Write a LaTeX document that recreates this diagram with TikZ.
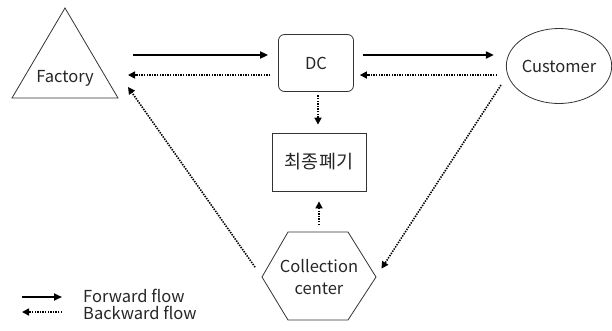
\documentclass[tikz,border=0pt]{standalone}
\usepackage{fontspec}
\setmainfont{Noto Sans CJK KR}
\usetikzlibrary{arrows.meta,shapes.geometric}
\begin{document}
\begin{tikzpicture}[x=1pt,y=-1pt,
  outline/.style={draw=black!80, line width=0.8pt},
  lbl/.style={font=\fontsize{16.5}{22}\selectfont, text=black!85, inner sep=0pt},
  fwd/.style={-{Triangle[length=8pt,width=7pt]}, line width=1.8pt},
  bwd/.style={-{Triangle[length=7pt,width=7pt]}, line width=1.6pt, dash pattern=on 1.4pt off 1.2pt}]
\useasboundingbox (0,0) rectangle (612,330);
% shapes
\draw[outline] (65,8) -- (118,98) -- (12,98) -- cycle;
\node[lbl] (factory) at (65,78) {Factory};
\node[outline, rounded corners=6pt, minimum width=75pt, minimum height=57pt, lbl] (dc) at (316,63) {DC};
\node[outline, ellipse, minimum width=98pt, minimum height=75pt, lbl] (cust) at (559,66) {Customer};
\node[outline, minimum width=94pt, minimum height=58pt, lbl, font=\fontsize{18.5}{22}\selectfont] (final) at (319,162) {최종폐기};
\draw[outline] (262,277) -- (288,232) -- (348,232) -- (376,277) -- (348,320) -- (288,320) -- cycle;
\node[lbl, align=center] (coll) at (319,277) {Collection\\center};
% connector end points
\coordinate (fa) at (133,55);
\coordinate (fb) at (128,75);
\coordinate (fc) at (128,87);
\coordinate (ca) at (501,85);
\coordinate (colltop) at (319,232);
\coordinate (collright) at (376,277);
\coordinate (collleft) at (262,277);
% connectors
\draw[fwd, shorten >=10pt] (fa) -- ([yshift=8pt]dc.west);
\draw[bwd, shorten <=8pt] ([yshift=-12pt]dc.west) -- (fb);
\draw[fwd, shorten <=9pt, shorten >=12pt] ([yshift=8pt]dc.east) -- ([yshift=11pt]cust.west);
\draw[bwd, shorten <=9pt, shorten >=6pt] ([yshift=-9pt]cust.west) -- ([yshift=-12pt]dc.east);
\draw[bwd, shorten <=3.5pt, shorten >=8pt] ([xshift=2pt]dc.south) -- ([xshift=-1pt]final.north);
\draw[bwd, shorten <=7pt, shorten >=10pt] (colltop) -- (final.south);
\draw[bwd, shorten >=10pt] (ca) -- (collright);
\draw[bwd, shorten <=12pt] (collleft) -- (fc);
% legend
\coordinate (l1a) at (22,297);
\coordinate (l1b) at (62,297);
\coordinate (l2a) at (62,312);
\coordinate (l2b) at (22,312);
\draw[fwd] (l1a) -- (l1b);
\draw[bwd] (l2a) -- (l2b);
\node[lbl, anchor=west] (lf) at (83,296) {Forward flow};
\node[lbl, anchor=west] (lb) at (83,313) {Backward flow};
\end{tikzpicture}
\end{document}
